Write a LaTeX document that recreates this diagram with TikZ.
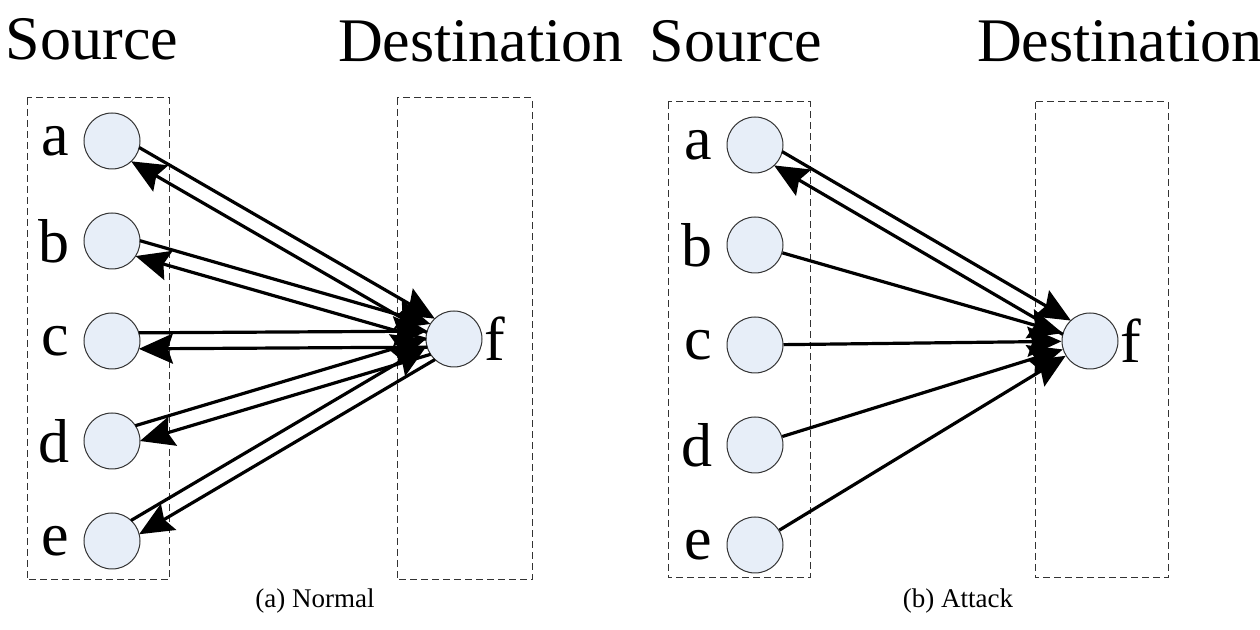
\documentclass[tikz,border=0pt]{standalone}
\usepackage{fontspec}
\setmainfont{Liberation Serif}
\usetikzlibrary{arrows.meta,positioning,calc}
\definecolor{hostfill}{RGB}{231,238,248}

\begin{document}
\begin{tikzpicture}[x=0.5pt,y=-0.5pt,
    host/.style={circle,draw=black!80,line width=0.5pt,fill=hostfill,
      minimum size=28pt,inner sep=0pt},
    tag/.style={font=\fontsize{31}{34}\selectfont,inner sep=0pt},
    title/.style={tag,anchor=base},
    caption/.style={font=\fontsize{13.5}{16}\selectfont,inner sep=0pt},
    group/.style={draw=black!80,line width=0.5pt,dash pattern=on 3.5pt off 2pt},
    flow/.style={-{Stealth[length=17pt,width=15pt,inset=2.5pt]},line width=1.6pt},
    pair/.style={flow,shorten <=13.4pt,shorten >=13.4pt},
    node distance=21.5pt]

  \useasboundingbox (0,0) rectangle (1260,630);

  % (a) normal traffic
  \node[title] (src) at (92,60) {Source};
  \node[title] (dst) at (481,62) {Destination};
  \draw[group] (27,98) rectangle (169,580);
  \draw[group] (397,98) rectangle (532,580);

  \node[host] (a) at (112,141) {};
  \node[host,below=of a] (b) {};
  \node[host,below=of b] (c) {};
  \node[host,below=of c] (d) {};
  \node[host,below=of d] (e) {};
  \node[host] (f) at (454,339) {};

  \foreach \n in {a,...,e}
    \node[tag,left=7pt of \n] (\n-tag) {\n};
  \node[tag,right=1pt of f] (f-tag) {f};

  \foreach \n in {a,...,e}{
    \draw[pair] ($(\n)!4pt!90:(f)$) -- ($(f)!4pt!-90:(\n)$);
    \draw[pair] ($(f)!4pt!90:(\n)$) -- ($(\n)!4pt!-90:(f)$);
  }

  \node[caption] (cap-a) at (315,601) {(a)~Normal};

  % (b) attack traffic
  \node[title] (rsrc) at (736,62) {Source};
  \node[title] (rdst) at (1120,62) {Destination};
  \draw[group] (668,102) rectangle (810,578);
  \draw[group] (1035,102) rectangle (1168,578);

  \node[host] (ra) at (755,145) {};
  \node[host,below=of ra] (rb) {};
  \node[host,below=of rb] (rc) {};
  \node[host,below=of rc] (rd) {};
  \node[host,below=of rd] (re) {};
  \node[host] (rf) at (1090,341) {};

  \foreach \n/\t in {ra/a,rb/b,rc/c,rd/d,re/e}
    \node[tag,left=7pt of \n] (\n-tag) {\t};
  \node[tag,right=1pt of rf] (rf-tag) {f};

  \draw[pair] ($(ra)!4pt!90:(rf)$) -- ($(rf)!4pt!-90:(ra)$);
  \draw[pair] ($(rf)!4pt!90:(ra)$) -- ($(ra)!4pt!-90:(rf)$);
  \foreach \n in {rb,rc,rd,re}
    \draw[flow] (\n) -- (rf);

  \node[caption] (cap-b) at (958,601) {(b)~Attack};

\end{tikzpicture}
\end{document}
